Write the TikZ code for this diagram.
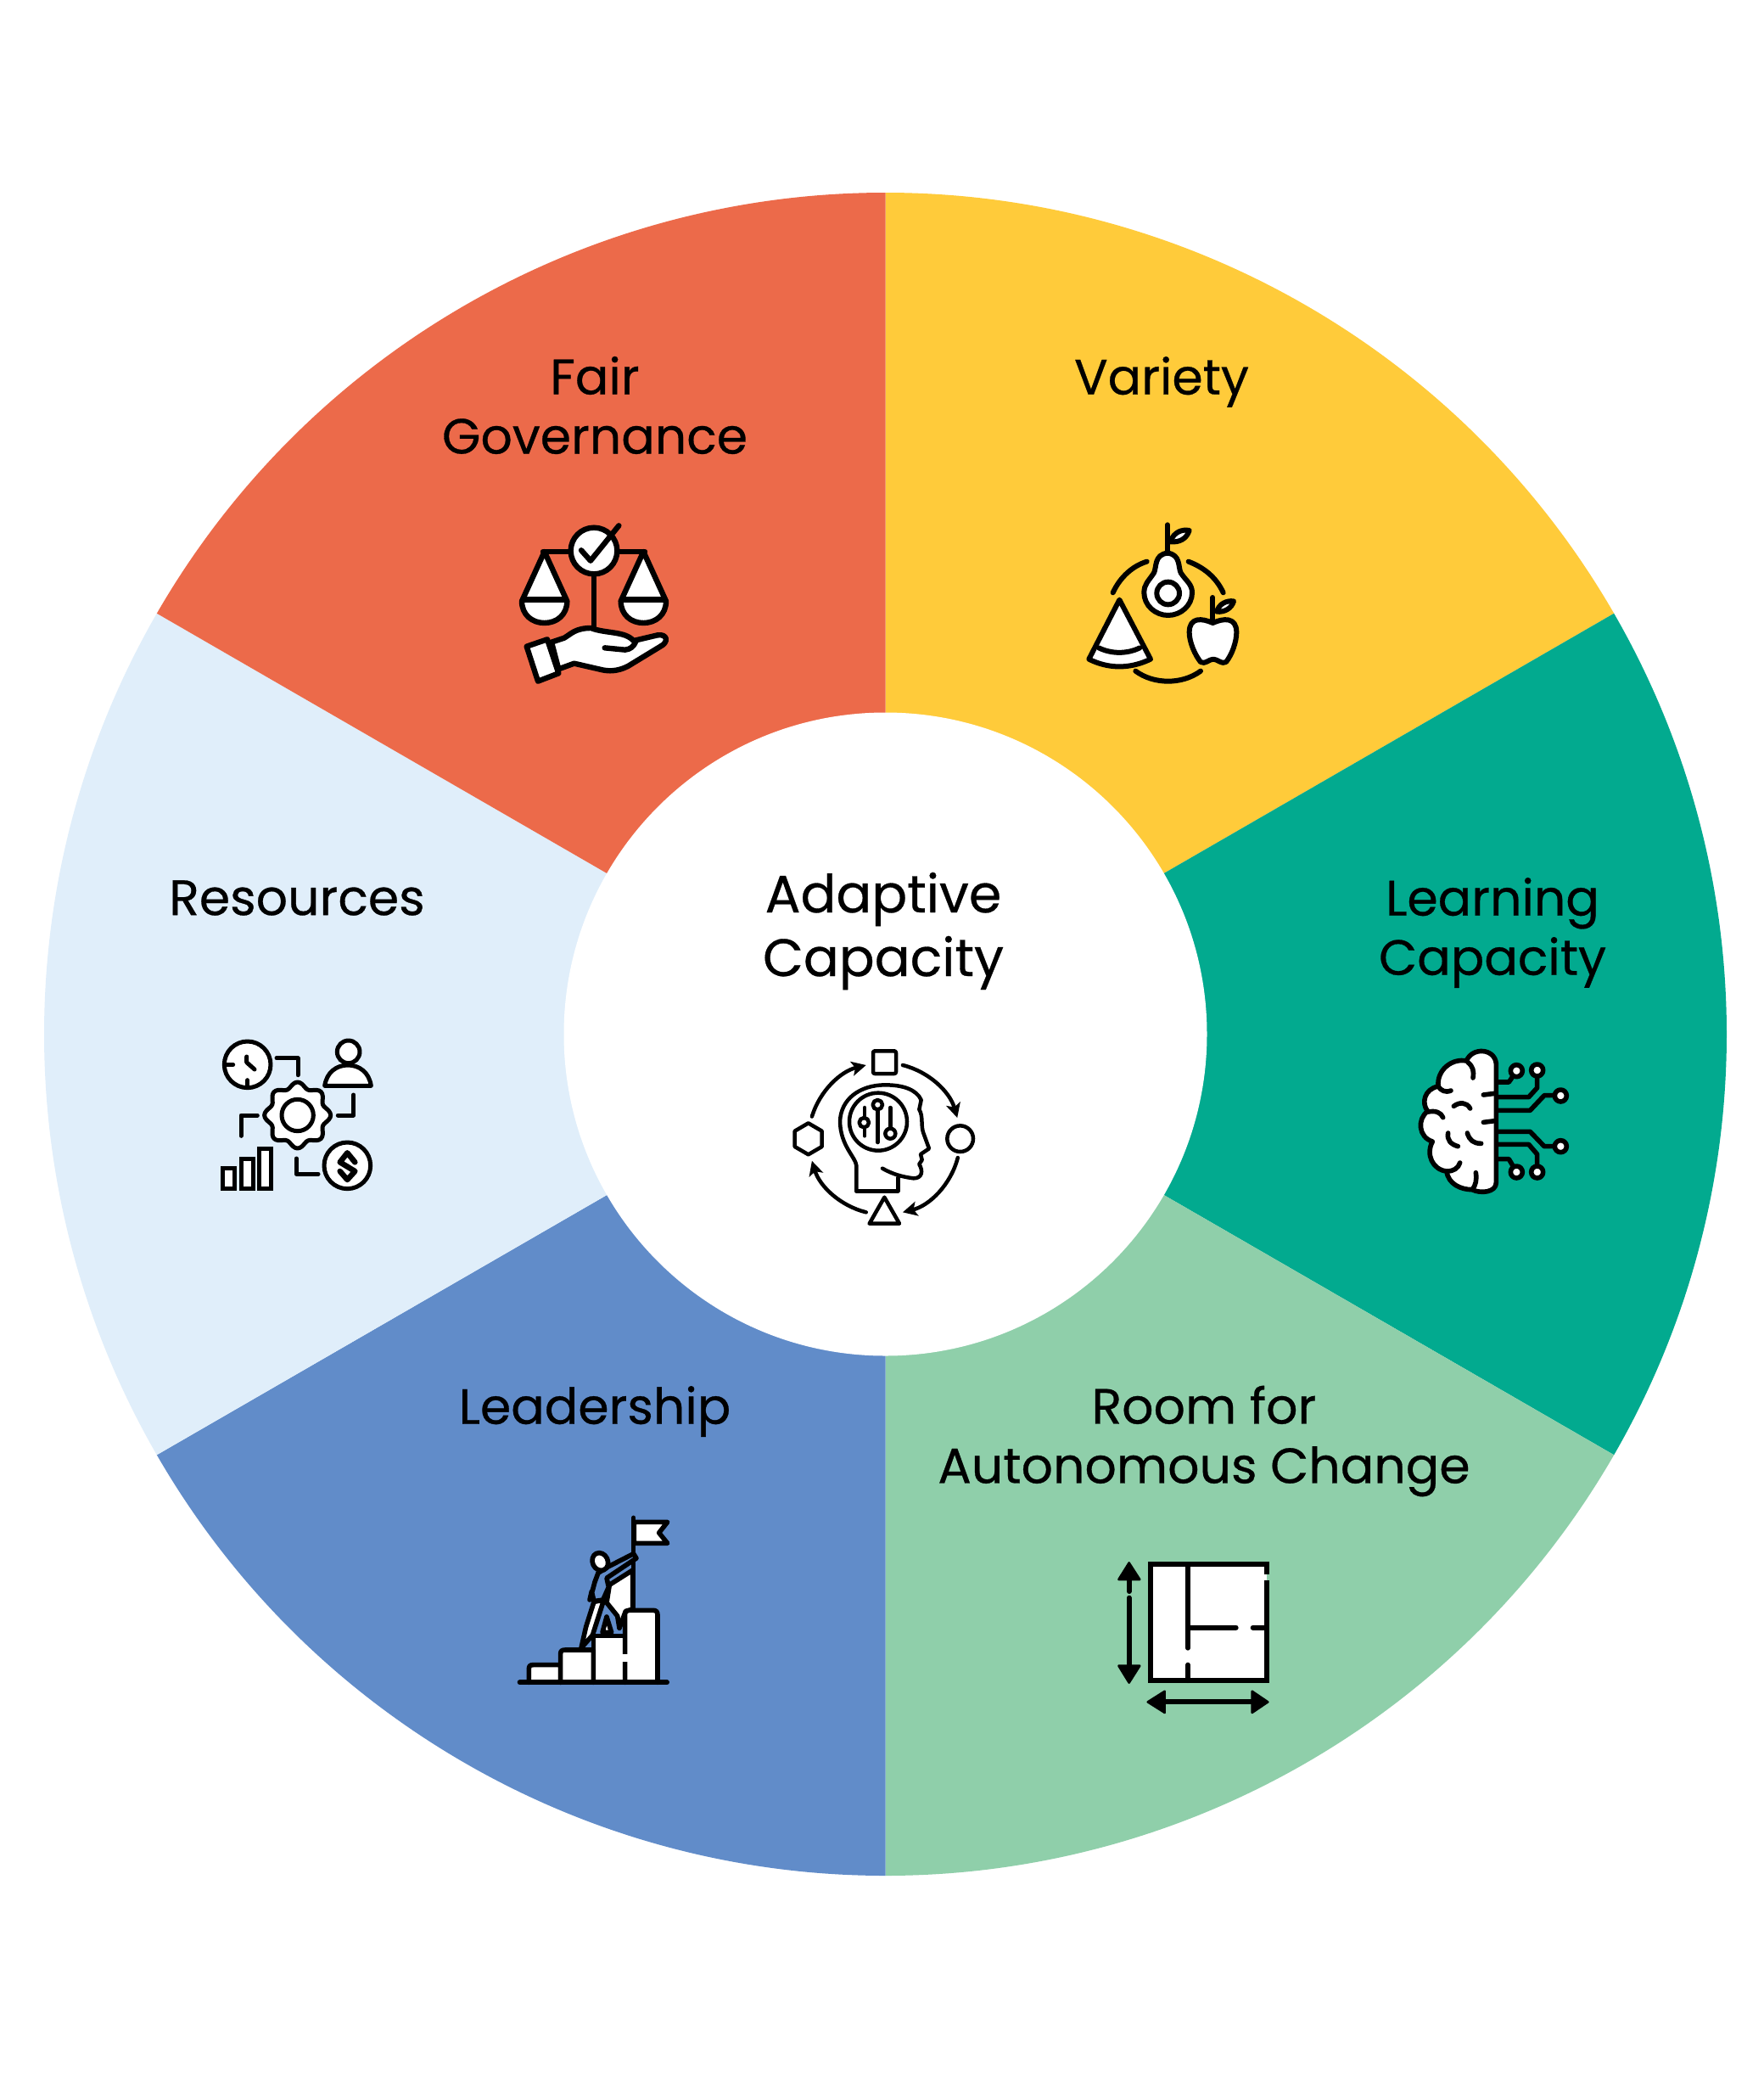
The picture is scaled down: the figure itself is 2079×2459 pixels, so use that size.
\documentclass[tikz,border=0pt]{standalone}
\usepackage{fontspec}
\setmainfont{Poppins}[RawFeature={embolden=0.5}]
\usetikzlibrary{arrows.meta}
\definecolor{cRed}{HTML}{EC6A4A}
\definecolor{cYel}{HTML}{FFCB3A}
\definecolor{cTeal}{HTML}{02AA8F}
\definecolor{cGrn}{HTML}{8FCFAA}
\definecolor{cBlu}{HTML}{618CC9}
\definecolor{cSky}{HTML}{E0EEFA}
\tikzset{
  lbl/.style={align=center,font=\fontsize{58.5}{70}\selectfont,text=black,inner sep=0pt},
  lblc/.style={align=center,font=\fontsize{62}{75}\selectfont,text=black,inner sep=0pt},
  ic/.style={draw=black,fill=white,line join=round,line cap=round},
  ln/.style={draw=black,line join=round,line cap=round},
  sol/.style={draw=black,fill=black,line join=round,line cap=round},
  tipline/.style={ln,-{Stealth[length=17pt,width=17pt,inset=4pt]}}
}
\begin{document}
\begin{tikzpicture}[x=1pt,y=-1pt]
\useasboundingbox (0,0) rectangle (2079,2459);
\fill[white] (0,0) rectangle (2079,2459);
\coordinate (c) at (1043.5,1218.5);
\def\R{991.5}
\foreach \a/\b/\col in {-90/-30/cYel,-30/30/cTeal,30/90/cGrn,90/150/cBlu,150/210/cSky,210/270/cRed}{
  \fill[\col] (c) -- ++(\a:\R) arc[start angle=\a,end angle=\b,radius=\R] -- cycle;
}
\fill[white] (c) circle[radius=379];
% labels
\node[lbl] (fair) at (701,477.5) {Fair\\Governance};
\node[lbl] (variety) at (1369,450) {Variety};
\node[lbl] (learn) at (1759,1099) {Learning\\Capacity};
\node[lbl] (room) at (1419,1698) {Room for\\Autonomous Change};
\node[lbl] (lead) at (701,1663) {Leadership};
\node[lbl] (res) at (350,1058) {Resources};
\node[lblc] (adapt) at (1041,1097) {Adaptive\\Capacity};
% ---- scales
\begin{scope}[shift={(590,600)},scale=0.33333,line width=6.4pt]
\path[ln] (330,235)--(330,415);
\path[ln] (150,150)--(510,150);
\path[ic] (155,150)--(75,325) .. controls (75,372) and (110,402) .. (155,402) .. controls (200,402) and (235,372) .. (235,325)--cycle;
\path[ln] (80,320)--(230,320);
\path[ic] (505,150)--(425,325) .. controls (425,372) and (460,402) .. (505,402) .. controls (550,402) and (585,372) .. (585,325)--cycle;
\path[ln] (430,320)--(580,320);
\path[ic] (330,147) circle[radius=82];
\path[ln] (285,145)--(318,182)--(418,58);
\path[ic] (180,470)--(225,455) .. controls (250,440) and (265,420) .. (320,420) .. controls (370,440) and (440,430) .. (470,465)--(555,445) .. controls (590,440) and (595,470) .. (565,485)--(450,555) .. controls (410,575) and (380,572) .. (360,568)--(260,545)--(205,565)--cycle;
\path[ln] (368,490)--(440,497) .. controls (460,495) and (470,485) .. (478,468);
\path[ic] (92,485)--(165,460)--(205,580)--(132,608)--cycle;
\end{scope}
% ---- variety
\begin{scope}[shift={(1260,600)},scale=0.33333,line width=6pt]
\path[ln] (155,295) .. controls (180,240) and (225,200) .. (275,185);
\path[ln] (422,185) .. controls (475,205) and (520,240) .. (545,295);
\path[ln] (235,572) .. controls (300,620) and (400,620) .. (465,572);
\path[ln] (348,55)--(348,155);
\path[ic] (358,115) .. controls (370,80) and (400,70) .. (425,75) .. controls (415,105) and (390,118) .. (358,115)--cycle;
\path[ic] (348,155) .. controls (300,160) and (310,205) .. (300,225) .. controls (280,255) and (265,265) .. (265,295) .. controls (265,340) and (305,375) .. (350,375) .. controls (395,375) and (435,340) .. (435,295) .. controls (435,265) and (415,255) .. (395,225) .. controls (385,205) and (395,160) .. (348,155)--cycle;
\path[ic] (350,297) circle[radius=40];
\path[ln] (508,312)--(508,395);
\path[ic] (522,362) .. controls (530,335) and (555,322) .. (582,325) .. controls (575,350) and (550,365) .. (522,362)--cycle;
\path[ic] (508,402) .. controls (470,385) and (425,380) .. (425,435) .. controls (425,470) and (445,515) .. (465,540) .. controls (480,550) and (495,530) .. (510,530) .. controls (525,530) and (540,550) .. (555,540) .. controls (575,515) and (592,470) .. (592,435) .. controls (592,380) and (545,385) .. (508,402)--cycle;
\path[ic] (178,320)--(70,530) .. controls (140,565) and (215,565) .. (288,530)--cycle;
\path[ln] (105,490) .. controls (150,512) and (205,512) .. (250,490);
\end{scope}
% ---- brain
\begin{scope}[shift={(1650,1220)},scale=0.33333,line width=5.6pt]
\path[ic] (340,100) .. controls (335,45) and (255,40) .. (235,90) .. controls (185,80) and (130,120) .. (135,180) .. controls (85,190) and (75,240) .. (98,268) .. controls (60,295) and (65,360) .. (115,375) .. controls (90,420) and (115,475) .. (165,480) .. controls (170,525) and (215,545) .. (255,545) .. controls (285,560) and (340,555) .. (340,520)--cycle;
\path[ln] (240,95) .. controls (258,110) and (262,125) .. (258,150);
\path[ln] (135,180) .. controls (145,195) and (160,203) .. (180,195);
\path[ln] (295,210)--(335,205);
\path[ln] (190,250) .. controls (210,235) and (235,235) .. (248,258);
\path[ln] (100,270) .. controls (125,265) and (145,272) .. (152,290);
\path[ln] (295,307)--(335,302);
\path[ln] (170,345) .. controls (165,370) and (180,385) .. (205,392);
\path[ln] (238,345) .. controls (245,370) and (260,382) .. (287,382);
\path[ln] (165,480) .. controls (190,480) and (205,470) .. (212,450);
\path[ln] (268,485) .. controls (272,510) and (268,530) .. (255,545);
\path[ln] (345,165)--(385,165)--(412,125);
\path[ln] (345,218)--(455,218)--(485,185)--(485,125);
\path[ln] (345,265)--(460,265)--(510,212)--(568,212);
\path[ln] (345,340)--(460,340)--(510,392)--(568,392);
\path[ln] (345,385)--(455,385)--(485,420)--(485,483);
\path[ln] (345,437)--(385,437)--(412,483);
\foreach \p in {(412,125),(485,123),(568,213),(568,392),(485,483),(412,483)}{\path[ic] \p circle[radius=21];}
\end{scope}
% ---- floor plan
\begin{scope}[shift={(1300,1820)},scale=0.33333,line width=6pt]
\path[fill=white] (167,70) rectangle (578,480);
\path[draw=black,line cap=butt,line join=miter] (578,105)--(578,70)--(167,70)--(167,480)--(578,480)--(578,125);
\path[ln] (300,70)--(300,365);
\path[ln] (300,425)--(300,480);
\path[ln] (300,293)--(470,293);
\path[ln] (530,293)--(578,293);
\path[ln] (92,125)--(92,165);
\path[ln] (92,188)--(92,430);
\path[ln] (220,556)--(525,556);
\path[sol,line width=2.5pt] (92,64)--(130,123)--(55,123)--cycle;
\path[sol,line width=2.5pt] (92,488)--(130,428)--(55,428)--cycle;
\path[sol,line width=2.5pt] (158,556)--(218,518)--(218,594)--cycle;
\path[sol,line width=2.5pt] (583,556)--(527,518)--(527,594)--cycle;
\end{scope}
% ---- leadership
\begin{scope}[shift={(600,1770)},scale=0.33333,line width=5.6pt]
\path[ln] (440,55)--(440,385);
\path[ic] (442,70)--(560,70)--(530,108)--(560,145)--(442,145)--cycle;
\path[ic] (298,637)--(298,472)--(410,472)--(410,637)--cycle;
\path[ic] (410,637)--(410,395) .. controls (410,385) and (415,382) .. (425,382)--(510,382) .. controls (520,382) and (525,388) .. (525,398)--(525,637);
\path[ic] (70,637)--(70,590) .. controls (70,578) and (75,575) .. (85,575)--(182,575)--(182,637);
\path[ic] (182,637)--(182,535) .. controls (182,525) and (188,522) .. (198,522)--(298,522)--(298,637);
\path[draw=white,line width=6.5pt,line cap=butt] (410,538)--(410,565);
\path[ic] (355,292)--(437,240)--(437,378)--(412,385)--(390,445)--(383,402)--(345,355)--cycle;
\path[ic] (300,352)--(335,345)--(295,470)--(255,515)--(272,440)--cycle;
\path[ic] (330,460)--(345,405)--(362,460)--cycle;
\path[draw=black,line join=round,fill=cBlu] (303,282)--(315,250)--(350,228)--(440,182)--(450,198)--(345,268)--(352,300)--(332,345)--(300,350)--(292,315)--(285,345)--(295,312)--cycle;
\path[ic,rotate around={25:(322,210)}] (322,210) ellipse[x radius=27,y radius=32];
\path[ln,line width=6pt] (38,637)--(558,637);
\end{scope}
% ---- resources
\begin{scope}[shift={(250,1210)},scale=0.33333,line width=5pt]
\path[ic] (125,133) circle[radius=82];
\path[ln] (125,188)--(125,212);
\path[ln] (52,133)--(74,133);
\path[ln] (122,105)--(122,125)--(150,150);
\path[ic] (482,88) circle[radius=40];
\path[ic] (398,208) .. controls (405,160) and (440,135) .. (480,135) .. controls (520,135) and (555,160) .. (562,208)--cycle;
\path[ic] plot[smooth cycle,samples=96,domain=0:356.25] ({302+(107+10*cos(8*\x))*cos(\x)},{312+(107+10*cos(8*\x))*sin(\x)});
\path[ic] (302,312) circle[radius=56];
\path[ln] (228,110)--(303,110)--(303,170);
\path[ln] (500,240)--(500,312)--(445,312);
\path[ln] (160,312)--(102,312)--(102,385);
\path[ln] (298,465)--(298,520)--(375,520);
\path[ic,line join=miter] (38,500) rectangle (80,572);
\path[ic,line join=miter] (103,465) rectangle (145,572);
\path[ic,line join=miter] (165,430) rectangle (208,572);
\path[ic] (478,490) circle[radius=82];
\path[ln,line width=6.5pt] (505,478)--(478,445)--(452,478)--(505,510)--(478,540)--(452,510);
\end{scope}
% ---- head
\begin{scope}[shift={(920,1220)},scale=0.33333,line width=4.5pt]
\path[ic,rounded corners=2pt] (327,55) rectangle (408,135);
\path[ic] (635,365) circle[radius=46];
\path[ic] (367,572)--(314,665)--(420,665)--cycle;
\path[ic] (98,310)--(146,338)--(146,393)--(98,421)--(50,393)--(50,338)--cycle;
\path[tipline] (367,365) ++(-163:268) arc[start angle=-163,end angle=-104,radius=268];
\path[tipline] (367,365) ++(-76:268) arc[start angle=-76,end angle=-16,radius=268];
\path[tipline] (367,365) ++(14.5:268) arc[start angle=14.5,end angle=76,radius=268];
\path[tipline] (367,365) ++(104:268) arc[start angle=104,end angle=163,radius=268];
\path[ln] (268,550)--(415,550)--(415,503);
\path[ln] (268,550)--(268,460) .. controls (265,430) and (212,390) .. (210,305) .. controls (212,225) and (280,175) .. (370,175) .. controls (430,175) and (480,190) .. (497,228)--(490,262) .. controls (505,285) and (495,320) .. (505,345)--(525,400)--(495,420)--(500,440)--(490,455) .. controls (505,480) and (500,505) .. (470,505) .. controls (430,500) and (395,490) .. (360,470);
\path[ln] (345,305) circle[radius=102];
\path[ln] (297,255)--(297,355);
\path[ic] (295,308) circle[radius=17];
\path[ln] (343,262)--(343,378);
\path[ic] (343,245) circle[radius=17];
\path[ln] (388,255)--(388,330);
\path[ic] (388,347) circle[radius=18];
\end{scope}
\end{tikzpicture}
\end{document}
